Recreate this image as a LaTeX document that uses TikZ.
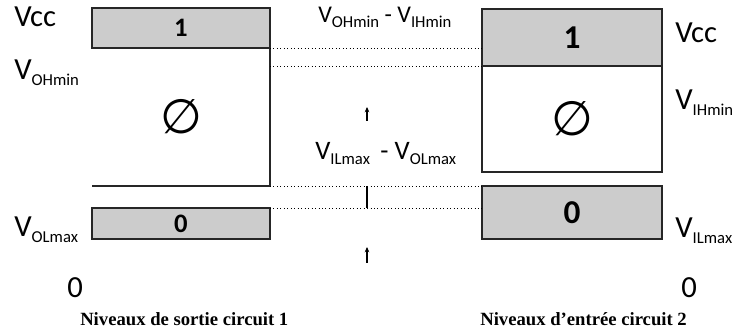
\documentclass[tikz,border=0pt]{standalone}
\usepackage{fontspec}
\setmainfont{Carlito}
\newfontfamily\capfont{Liberation Serif}
\newfontfamily\symfont{DejaVu Sans}
\usetikzlibrary{positioning, arrows.meta, calc}
\definecolor{levelgray}{RGB}{204, 204, 204}
\newcommand{\lvl}[2]{V{\raisebox{-0.35ex}{\fontsize{12.5}{12.5}\selectfont #2}}}

\begin{document}
\begin{tikzpicture}[
    x=0.75pt, y=-0.75pt,
    level/.style={rectangle, draw=black!85, line width=0.9pt, fill=levelgray, inner sep=0pt, outer sep=0pt, anchor=north west},
    void/.style={rectangle, inner sep=0pt, outer sep=0pt, anchor=north west, font=\symfont\fontsize{36}{38}\selectfont},
    edge/.style={draw=black!85, line width=0.9pt},
    gap/.style={dotted, line width=0.6pt},
    label/.style={anchor=base west, inner sep=0pt, font=\fontsize{23}{26}\selectfont},
    margin/.style={anchor=base west, inner sep=0pt, font=\fontsize{20}{22}\selectfont},
    caption/.style={anchor=base west, inner sep=0pt, font=\capfont\bfseries\fontsize{14}{16}\selectfont},
    tick/.style={-{Stealth[length=4pt, width=3.5pt]}, line width=0.8pt},
]
\useasboundingbox (0,0) rectangle (734,334);

% Output levels, circuit 1
\node[level, minimum width=133.5pt, minimum height=30pt, font=\bfseries\fontsize{20}{22}\selectfont] (hiOut) at (92,8) {1};
\node[void, minimum width=133.5pt, minimum height=103.5pt] (voidOut) at (92,48) {∅};
\node[level, minimum width=133.5pt, minimum height=23.25pt, font=\bfseries\fontsize{20}{22}\selectfont] (loOut) at (92,208) {0};
\draw[edge] (voidOut.north east) -- (voidOut.south east) -- (voidOut.south west);

% Input levels, circuit 2
\node[level, minimum width=135pt, minimum height=42.75pt, font=\bfseries\fontsize{25}{27}\selectfont] (hiIn) at (482,9) {1};
\node[void, minimum width=135pt, minimum height=79.5pt] (voidIn) at (482,66) {∅};
\node[level, minimum width=135pt, minimum height=39.75pt, font=\bfseries\fontsize{25}{27}\selectfont] (loIn) at (482,186) {0};
\draw[edge] (voidIn.north west) -- (voidIn.south west) -- (voidIn.south east) -- (voidIn.north east);

% Left labels
\node[label] (vccOut) at (14,27) {Vcc};
\node[label] (vohOut) at (14,80) {\lvl{V}{OHmin}};
\node[label] (volOut) at (14,237) {\lvl{V}{OLmax}};
\node[label] (zeroOut) at (67,297) {0};

% Right labels
\node[label] (vccIn) at (675,43) {Vcc};
\node[label] (vihIn) at (675,110) {\lvl{V}{IHmin}};
\node[label] (vilIn) at (675,238) {\lvl{V}{ILmax}};
\node[label] (zeroIn) at (681,297) {0};

% Noise margins
\draw[gap] (hiOut.south east) -- (hiOut.south east -| hiIn.west);
\draw[gap] (hiIn.south west -| voidOut.east) -- (hiIn.south west);
\draw[gap] (voidOut.south east) -- (loIn.north west);
\draw[gap] (loOut.north east) -- (loOut.north east -| loIn.west);
\coordinate (midTop) at (367,186);
\coordinate (midBot) at (367,208);
\draw[line width=0.8pt] (midTop) -- (midBot);

\node[margin, font=\fontsize{18}{20}\selectfont] (nmHigh) at (318,23) {\lvl{V}{OHmin} - \lvl{V}{IHmin}};
\node[margin] (nmLow) at (315,160) {\lvl{V}{ILmax} \,- \lvl{V}{OLmax}};

\coordinate (upA) at (367,107);
\coordinate (upB) at (367,247);
\draw[tick] ($(upA)+(0,14)$) -- (upA);
\draw[tick] ($(upB)+(0,16)$) -- (upB);

% Captions
\node[caption] (capOut) at (80,325) {Niveaux de sortie circuit 1};
\node[caption] (capIn) at (480,325) {Niveaux d’entrée circuit 2};

\end{tikzpicture}
\end{document}
